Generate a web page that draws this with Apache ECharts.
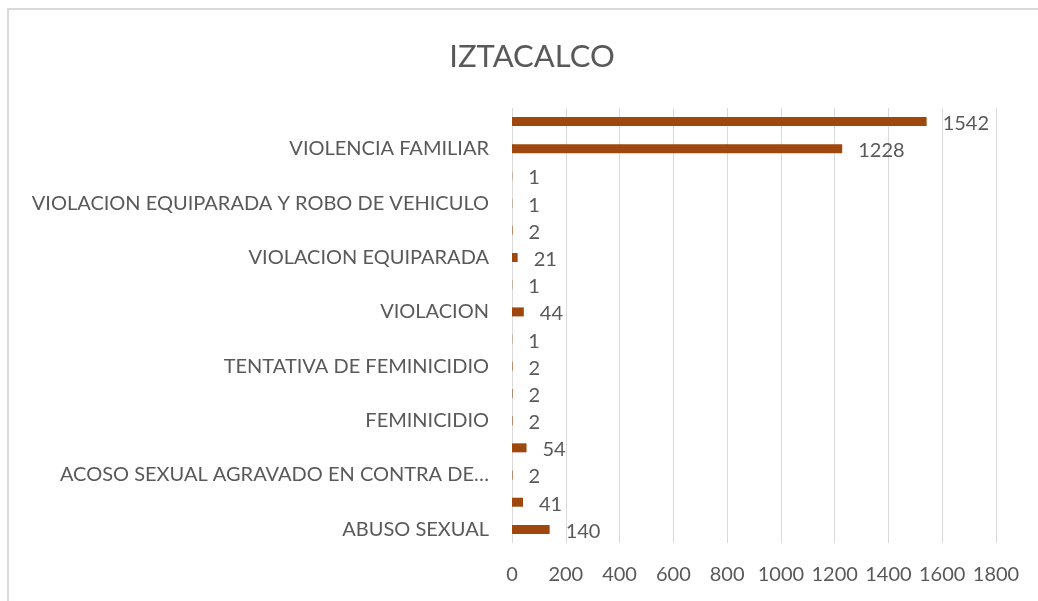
<!DOCTYPE html>
<html>
<head>
<meta charset="utf-8">
<script src="https://cdn.jsdelivr.net/npm/echarts@6/dist/echarts.min.js"></script>
<style>
  html, body { margin: 0; padding: 0; background: #fff; }
  #chart { width: 1038px; height: 601px; }
</style>
</head>
<body>
<div id="chart"></div>
<script>
var titleText = "IZTACALCO";
var categories = [
    "ABUSO SEXUAL",
    "ABUSO SEXUAL AGRAVADO",
    "ACOSO SEXUAL AGRAVADO EN CONTRA DE MENOR DE DIECIOCHO AÑOS",
    "ACOSO SEXUAL",
    "FEMINICIDIO",
    "FEMINICIDIO EN GRADO DE TENTATIVA",
    "TENTATIVA DE FEMINICIDIO",
    "TENTATIVA DE VIOLACION",
    "VIOLACION",
    "VIOLACION AGRAVADA",
    "VIOLACION EQUIPARADA",
    "VIOLACION EQUIPARADA AGRAVADA",
    "VIOLACION EQUIPARADA Y ROBO DE VEHICULO",
    "VIOLACION Y ROBO",
    "VIOLENCIA FAMILIAR",
    "TOTAL"
];
var values = [140, 41, 2, 54, 2, 2, 2, 1, 44, 1, 21, 2, 1, 1, 1228, 1542];

var font = "Lato";
var textColor = "#595959";

var myChart = echarts.init(document.getElementById("chart"));
var option = {
    animation: false,
    title: {
        text: titleText,
        left: 527,
        textAlign: "center",
        top: 36,
        textStyle: { fontFamily: font, fontSize: 31, fontWeight: "normal", color: textColor }
    },
    graphic: [{
        type: "rect",
        shape: { x: 8, y: 9, width: 1040, height: 600 },
        style: { fill: "none", stroke: "#d9d9d9", lineWidth: 2 }
    }],
    grid: { left: 512, right: 42, top: 108, bottom: 58 },
    xAxis: {
        type: "value",
        min: 0,
        max: 1800,
        interval: 200,
        axisLine: { show: false },
        axisTick: { show: false },
        splitLine: { lineStyle: { color: "#d9d9d9", width: 1 } },
        axisLabel: {
            fontFamily: font, fontSize: 20, color: textColor, margin: 22,
            formatter: function(v){ return String(v); }
        }
    },
    yAxis: {
        type: "category",
        data: categories,
        axisLine: { show: false },
        axisTick: { show: false },
        axisLabel: {
            interval: 1,
            margin: 23,
            fontFamily: font,
            fontSize: 20,
            color: textColor,
            formatter: function(name){
                if(name.length > 40){
                    return name.slice(0, 34) + "…";
                }
                return name;
            }
        }
    },
    series: [{
        type: "bar",
        data: values,
        barWidth: 9,
        itemStyle: { color: "#9E480E" },
        label: {
            show: true,
            position: "right",
            distance: 16,
            fontFamily: font,
            fontSize: 20,
            color: textColor,
            offset: [0, 2]
        }
    }]
};
myChart.setOption(option);
</script>
</body>
</html>
